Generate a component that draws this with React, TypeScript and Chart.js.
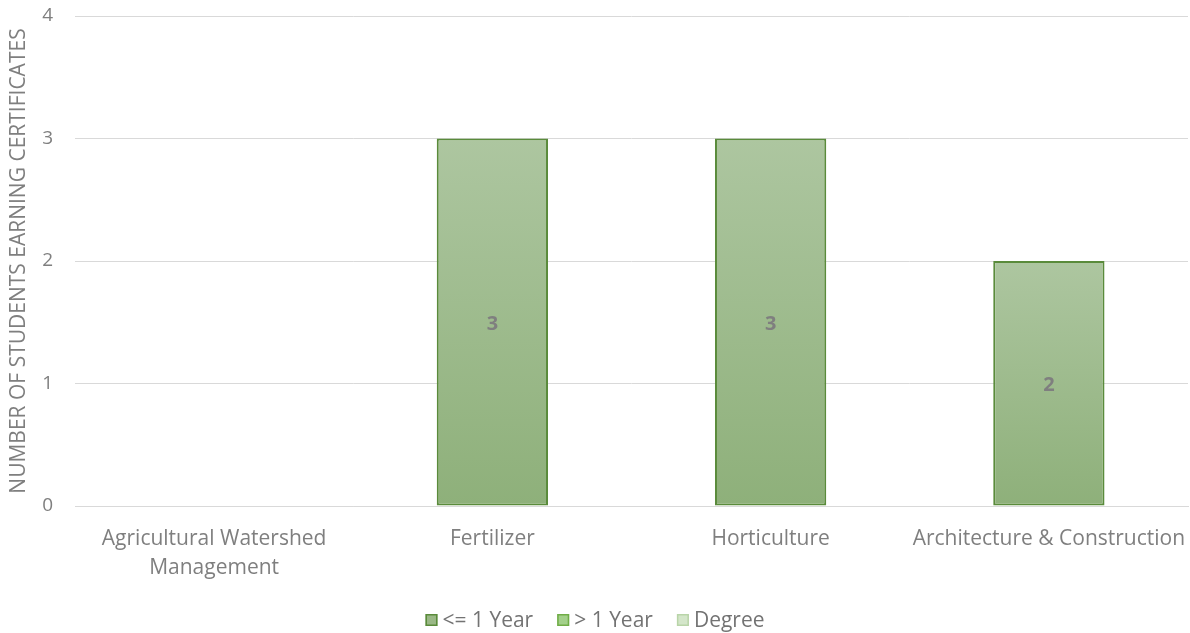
import React, { useEffect, useRef } from "react";
import { Chart, registerables } from "chart.js";

Chart.register(...registerables);

// Program categories (first label wraps onto two lines)
const categories: (string | string[])[] = [
  ["Agricultural Watershed", "Management"],
  "Fertilizer",
  "Horticulture",
  "Architecture & Construction",
];

// Certificates earned, by program length
const upToOneYear = [0, 3, 3, 2];
const overOneYear = [0, 0, 0, 0];
const degree = [0, 0, 0, 0];

const seriesNames = ["<= 1 Year", "> 1 Year", "Degree"];
const yTicks = [0, 1, 2, 3, 4];

const FONT = "'Open Sans', Lato, sans-serif";
const TEXT = "#7f7f7f";
const LEGEND_TEXT = "#737373";

const fills = ["#9ab886", "#a3d08a", "#d4e6ca"];
const borders = ["#5a8b3b", "#70ad47", "#b9d5a9"];

// Zero values are left empty so no flat bar outline is drawn
const asBars = (arr: number[]) => arr.map((v) => (v === 0 ? null : v));

// Vertical gradient spanning each bar from its top edge down to the baseline
function barGradient(ctx: any, top: string, bottom: string, fallback: string) {
  const chart = ctx.chart;
  const y = chart.scales?.y;
  if (!y || ctx.raw == null) return fallback;
  const yTop = y.getPixelForValue(ctx.raw);
  const yBase = y.getPixelForValue(0);
  if (!isFinite(yTop) || !isFinite(yBase) || yTop === yBase) return fallback;
  const g = chart.ctx.createLinearGradient(0, yTop, 0, yBase);
  g.addColorStop(0, top);
  g.addColorStop(1, bottom);
  return g;
}

// Writes each non-empty stack value in the middle of its bar
const valueLabels = {
  id: "valueLabels",
  afterDatasetsDraw(chart: any) {
    const { ctx } = chart;
    ctx.save();
    ctx.font = `bold 20px ${FONT}`;
    ctx.fillStyle = TEXT;
    ctx.textAlign = "center";
    ctx.textBaseline = "middle";
    chart.data.datasets.forEach((ds: any, di: number) => {
      const meta = chart.getDatasetMeta(di);
      meta.data.forEach((bar: any, i: number) => {
        const v = ds.data[i];
        if (v == null || v === 0) return;
        const { x, y, base } = bar.getProps(["x", "y", "base"], true);
        ctx.fillText(String(v), x, (y + base) / 2 + 2);
      });
    });
    ctx.restore();
  },
};

// Compact legend centred along the bottom edge
const bottomLegend = {
  id: "bottomLegend",
  afterDraw(chart: any) {
    const { ctx, width, height } = chart;
    const box = 12;
    const gap = 5;
    const spacing = 24;
    ctx.save();
    ctx.font = `21px ${FONT}`;
    ctx.textBaseline = "middle";
    ctx.textAlign = "left";
    const widths = seriesNames.map((t) => ctx.measureText(t).width);
    const total =
      widths.reduce((a, w) => a + box + gap + w, 0) + spacing * (seriesNames.length - 1);
    let x = (width - total) / 2;
    const cy = height - 13;
    seriesNames.forEach((name, i) => {
      ctx.fillStyle = fills[i];
      ctx.fillRect(x, cy - box / 2, box, box);
      ctx.strokeStyle = borders[i];
      ctx.lineWidth = 1.5;
      ctx.strokeRect(x + 0.75, cy - box / 2 + 0.75, box - 1.5, box - 1.5);
      ctx.fillStyle = LEGEND_TEXT;
      ctx.fillText(name, x + box + gap, cy + 1);
      x += box + gap + widths[i] + spacing;
    });
    ctx.restore();
  },
};

export default function App() {
  const canvasRef = useRef<HTMLCanvasElement | null>(null);

  useEffect(() => {
    document.body.style.margin = "0";
    const canvas = canvasRef.current;
    if (!canvas) return;
    const chart = new Chart(canvas, {
      type: "bar",
      data: {
        labels: categories,
        datasets: [
          {
            label: seriesNames[0],
            data: asBars(upToOneYear),
            backgroundColor: (c: any) => barGradient(c, "#adc6a0", "#8eb07a", fills[0]),
            borderColor: borders[0],
            borderWidth: 2,
            borderSkipped: false,
          },
          {
            label: seriesNames[1],
            data: asBars(overOneYear),
            backgroundColor: fills[1],
            borderColor: borders[1],
            borderWidth: 2,
            borderSkipped: false,
          },
          {
            label: seriesNames[2],
            data: asBars(degree),
            backgroundColor: fills[2],
            borderColor: borders[2],
            borderWidth: 2,
            borderSkipped: false,
          },
        ] as any,
      },
      options: {
        animation: false,
        responsive: true,
        maintainAspectRatio: false,
        layout: { padding: { left: 6, right: 2, top: 16, bottom: 53 } },
        datasets: { bar: { barPercentage: 0.4, categoryPercentage: 1 } } as any,
        scales: {
          x: {
            stacked: true,
            grid: { display: false, drawTicks: false },
            border: { display: true, color: "#d9d9d9", width: 1 },
            ticks: {
              color: TEXT,
              font: { family: FONT, size: 21, lineHeight: 1.38 },
              padding: 19,
              maxRotation: 0,
              autoSkip: false,
            },
            afterFit: (s: any) => {
              s.paddingTop = 0;
              s.paddingBottom = 0;
              s.paddingLeft = 0;
              s.paddingRight = 0;
              s.height = 74;
            },
          },
          y: {
            stacked: true,
            min: 0,
            max: 4,
            afterBuildTicks: (axis: any) => {
              axis.ticks = yTicks.map((value) => ({ value }));
            },
            afterFit: (s: any) => {
              s.paddingTop = 0;
              s.paddingBottom = 0;
              s.width = 69;
            },
            grid: { color: "#d9d9d9", lineWidth: 1, drawTicks: false },
            border: { display: false },
            ticks: {
              color: TEXT,
              font: { family: FONT, size: 19 },
              padding: 22,
            },
            title: {
              display: true,
              text: "NUMBER OF STUDENTS EARNING CERTIFICATES",
              color: TEXT,
              font: { family: FONT, size: 21 },
              padding: { top: 0, bottom: 7 },
            },
          },
        },
        plugins: {
          tooltip: { enabled: false },
          legend: { display: false },
        },
      },
      plugins: [valueLabels, bottomLegend],
    });
    return () => chart.destroy();
  }, []);

  return (
    <div style={{ width: 1190, height: 633, position: "relative" }}>
      <canvas ref={canvasRef} />
    </div>
  );
}
